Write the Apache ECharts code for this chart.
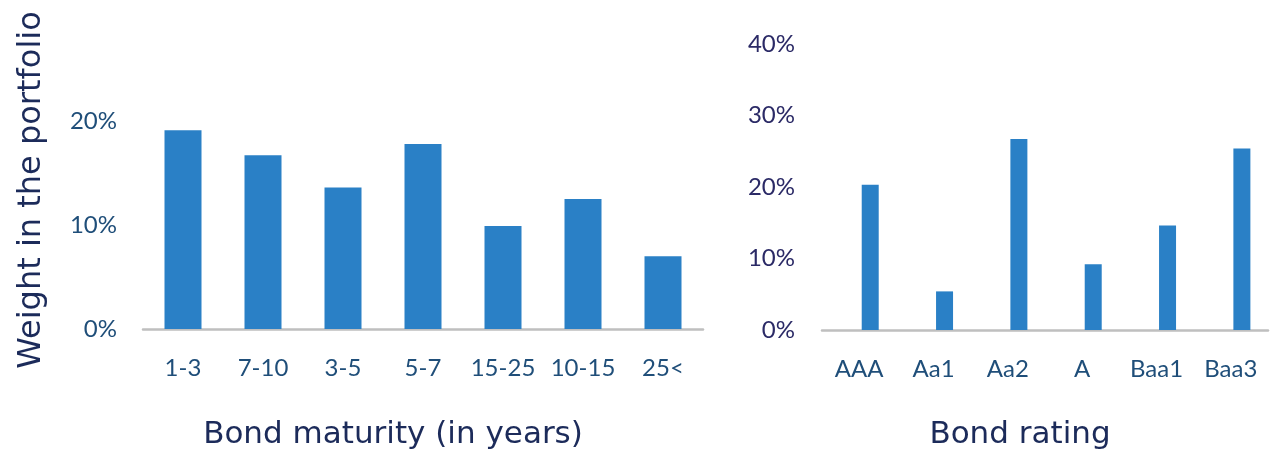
<!DOCTYPE html>
<html>
<head>
<meta charset="utf-8">
<script src="https://cdn.jsdelivr.net/npm/echarts@6/dist/echarts.min.js"></script>
<style>
html,body{margin:0;padding:0;background:#fff;}
#chart{width:1276px;height:450px;}
</style>
</head>
<body>
<div id="chart"></div>
<script>
// Data
var maturityCategories = ['1-3', '7-10', '3-5', '5-7', '15-25', '10-15', '25<'];
var maturityWeights = [19.1, 16.7, 13.6, 17.8, 9.9, 12.5, 7.0];
var ratingCategories = ['AAA', 'Aa1', 'Aa2', 'A', 'Baa1', 'Baa3'];
var ratingWeights = [20.3, 5.4, 26.7, 9.2, 14.6, 25.4];
var ratingPlaceholder = [null, null, null, null, null, null];
var maturityTicks = [0, 10, 20];
var ratingTicks = [0, 10, 20, 30, 40];
var yTitle = 'Weight in the portfolio';
var maturityTitle = 'Bond maturity (in years)';
var ratingTitle = 'Bond rating';

var barColor = '#2a80c6';
var leftLabelColor = '#1f4e79';
var rightLabelColor = '#2b2a66';
var titleColor = '#1c2b5a';
var tickFont = 'Lato, "Open Sans", sans-serif';
var titleFont = '"DejaVu Sans", "Noto Sans", sans-serif';

function pctFormatter(ticks) {
  return function (v) { return ticks.indexOf(v) >= 0 ? v + '%' : ''; };
}

var chart = echarts.init(document.getElementById('chart'), null, {renderer: 'canvas'});
chart.setOption({
  animation: false,
  backgroundColor: '#ffffff',
  grid: [
    {left: 143, top: 17, width: 560, height: 312, containLabel: false},
    {left: 822, top: 44, width: 446, height: 286, containLabel: false}
  ],
  xAxis: [
    {
      type: 'category', gridIndex: 0, data: maturityCategories,
      axisLine: {show: true, lineStyle: {color: '#bfbfbf', width: 2.5}},
      axisTick: {show: false},
      axisLabel: {color: leftLabelColor, fontFamily: tickFont, fontSize: 24, margin: 27, interval: 0}
    },
    {
      type: 'category', gridIndex: 1, data: ratingCategories,
      axisLine: {show: true, lineStyle: {color: '#bfbfbf', width: 2.5}},
      axisTick: {show: false},
      axisLabel: {color: leftLabelColor, fontFamily: tickFont, fontSize: 24, margin: 27, interval: 0}
    }
  ],
  yAxis: [
    {
      type: 'value', gridIndex: 0, min: 0, max: 30, interval: 10,
      axisLine: {show: false}, axisTick: {show: false}, splitLine: {show: false},
      axisLabel: {color: leftLabelColor, fontFamily: tickFont, fontSize: 24, margin: 26,
        formatter: pctFormatter(maturityTicks)}
    },
    {
      type: 'value', gridIndex: 1, min: 0, max: 40, interval: 10,
      axisLine: {show: false}, axisTick: {show: false}, splitLine: {show: false},
      axisLabel: {color: rightLabelColor, fontFamily: tickFont, fontSize: 24, margin: 27,
        formatter: pctFormatter(ratingTicks)}
    }
  ],
  series: [
    {
      type: 'bar', xAxisIndex: 0, yAxisIndex: 0, data: maturityWeights,
      barWidth: 37, itemStyle: {color: barColor}
    },
    {
      type: 'bar', xAxisIndex: 1, yAxisIndex: 1, data: ratingPlaceholder,
      barWidth: 17, barGap: '30%', itemStyle: {color: barColor}
    },
    {
      type: 'bar', xAxisIndex: 1, yAxisIndex: 1, data: ratingWeights,
      barWidth: 17, barGap: '30%', itemStyle: {color: barColor}
    }
  ],
  graphic: [
    {
      type: 'text', x: 32, y: 190, rotation: Math.PI / 2,
      style: {text: yTitle, font: '32px ' + titleFont, fill: titleColor, align: 'center', verticalAlign: 'middle'}
    },
    {
      type: 'text', x: 393, y: 435,
      style: {text: maturityTitle, font: '31px ' + titleFont, fill: titleColor, align: 'center', verticalAlign: 'middle'}
    },
    {
      type: 'text', x: 1020, y: 435,
      style: {text: ratingTitle, font: '31px ' + titleFont, fill: titleColor, align: 'center', verticalAlign: 'middle'}
    }
  ]
});
</script>
</body>
</html>
